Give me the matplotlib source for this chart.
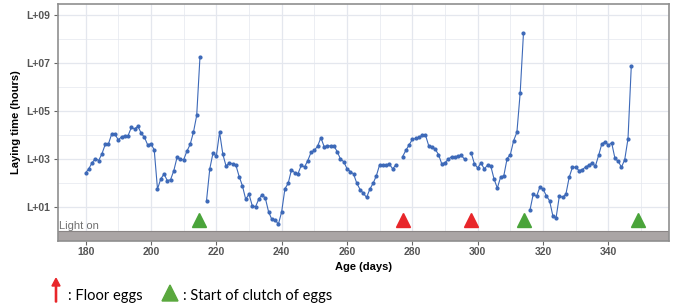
#!/usr/bin/env python3

import numpy as np
import matplotlib
matplotlib.use("Agg")
import matplotlib.pyplot as plt
from matplotlib.ticker import FixedLocator, FuncFormatter

# laying time per day, stored as log10(hours); each run starts at a given day
seg_start = [180, 217, 277, 298, 316]
seg_log = [
    [2.41, 2.59, 2.84, 3.01, 2.93, 3.21, 3.60, 3.63, 4.04, 4.02, 3.79, 3.92,
     3.96, 3.97, 4.31, 4.25, 4.36, 4.07, 3.90, 3.58, 3.63, 3.37, 1.74, 2.16,
     2.37, 2.09, 2.13, 2.51, 3.07, 2.98, 2.96, 3.32, 3.60, 4.11, 4.81, 7.25],
    [1.25, 2.58, 3.25, 3.11, 4.11, 3.19, 2.69, 2.84, 2.79, 2.73, 2.26, 1.87,
     1.31, 1.53, 1.04, 1.00, 1.32, 1.50, 1.36, 0.79, 0.47, 0.46, 0.27, 0.79,
     1.75, 1.98, 2.54, 2.42, 2.38, 2.73, 2.66, 2.93, 3.27, 3.35, 3.53, 3.88,
     3.51, 3.54, 3.54, 3.54, 3.30, 2.99, 2.88, 2.59, 2.47, 2.37, 1.98, 1.72,
     1.56, 1.39, 1.74, 1.98, 2.30, 2.76, 2.73, 2.76, 2.77, 2.58, 2.76],
    [3.09, 3.35, 3.58, 3.81, 3.85, 3.89, 3.99, 4.00, 3.55, 3.51, 3.40, 3.18,
     2.79, 2.84, 2.98, 3.09, 3.09, 3.11, 3.14, 2.98],
    [3.25, 2.79, 2.62, 2.83, 2.58, 2.73, 2.70, 2.16, 1.78, 2.23, 2.30, 3.01,
     3.18, 3.76, 4.11, 5.75, 8.23],
    [0.86, 1.53, 1.43, 1.81, 1.74, 1.46, 1.25, 0.62, 0.55, 1.46, 1.39, 1.53,
     2.23, 2.65, 2.65, 2.51, 2.55, 2.66, 2.73, 2.83, 2.69, 3.14, 3.63, 3.71,
     3.57, 3.67, 3.02, 2.90, 2.65, 2.97, 3.84, 6.86],
]

floor_days = [277.2, 297.8]
clutch_days = [214.7, 314.3, 349.0]

x_ticks = [180, 200, 220, 240, 260, 280, 300, 320, 340]
y_ticks = [1, 3, 5, 7, 9]

line_col = "#3d69b8"
grid_col = "#e4e7ee"

plt.rcParams['font.family'] = ['Liberation Sans', 'DejaVu Sans']

fig = plt.figure(figsize=(6.75, 3.08), dpi=100)
ax = fig.add_axes([0.0852, 0.219, 0.9052, 0.768])

for start, vals in zip(seg_start, seg_log):
    days = start + np.arange(len(vals))
    ax.plot(days, 10.0 ** np.array(vals), color=line_col, lw=0.8,
            marker='o', ms=2.0, mec=line_col, mfc=line_col, zorder=3)

ax.set_yscale('log')
ax.set_xlim(171.4, 358.4)
ax.set_ylim(10 ** -0.41, 10 ** 9.46)

# "light on" band
ax.axhspan(10 ** -0.41, 1.0, color="#aaa5a5", zorder=2, lw=0)
ax.axhline(1.0, color="#8a8585", lw=0.8, zorder=2)
ax.text(172.0, 10 ** 0.2, "Light on", color="#707070", fontsize=8,
        ha='left', va='center', zorder=4)

tri_y = 10 ** 0.44
ax.plot(floor_days, [tri_y] * len(floor_days), ls='none', marker='^',
        ms=10, color="#e8262a", zorder=4)
ax.plot(clutch_days, [tri_y] * len(clutch_days), ls='none', marker='^',
        ms=10, color="#4aa43a", zorder=4)

ax.xaxis.set_major_locator(FixedLocator(x_ticks))
ax.xaxis.set_minor_locator(FixedLocator([x + 10 for x in x_ticks]))
ax.yaxis.set_major_locator(FixedLocator([10.0 ** e for e in y_ticks]))
ax.yaxis.set_minor_locator(FixedLocator([10.0 ** (e + 1) for e in y_ticks[:-1]]))
ax.yaxis.set_major_formatter(FuncFormatter(lambda v, p: "L+%02d" % round(np.log10(v))))
ax.yaxis.set_minor_formatter(FuncFormatter(lambda v, p: ""))

ax.grid(True, which='major', color=grid_col, lw=0.9, zorder=0)
ax.grid(True, which='minor', color=grid_col, lw=0.5, zorder=0)
ax.set_axisbelow(True)

for s in ax.spines.values():
    s.set_color("#8f8f8f")
    s.set_linewidth(1.2)

ax.tick_params(which='major', length=3, color="#666666", labelsize=7.5,
               labelcolor="#555555", pad=2)
ax.tick_params(which='minor', length=0)
for lab in ax.get_xticklabels() + ax.get_yticklabels():
    lab.set_fontweight('bold')

ax.set_xlabel("Age (days)", fontsize=8, fontweight='bold', labelpad=3)
ax.set_ylabel("Laying time (hours)", fontsize=8, fontweight='bold', labelpad=4)

# legend underneath
fig.patches.append(matplotlib.patches.FancyArrow(
    56 / 675, 1 - 302 / 308, 0, 16 / 308, width=0.0018, head_width=0.012,
    head_length=0.025, color="#e8262a", transform=fig.transFigure))
fig.text(68 / 675, 1 - 296 / 308, ": Floor eggs", fontsize=10.5,
         family=['Lato', 'DejaVu Sans'], va='center', ha='left')
fig.patches.append(matplotlib.patches.Polygon(
    [[162 / 675, 1 - 301 / 308], [178 / 675, 1 - 301 / 308], [170 / 675, 1 - 285 / 308]],
    closed=True, color="#5aa83e", transform=fig.transFigure))
fig.text(183 / 675, 1 - 296 / 308, ": Start of clutch of eggs", fontsize=10.5,
         family=['Lato', 'DejaVu Sans'], va='center', ha='left')

fig.savefig("out.png", dpi=100)
